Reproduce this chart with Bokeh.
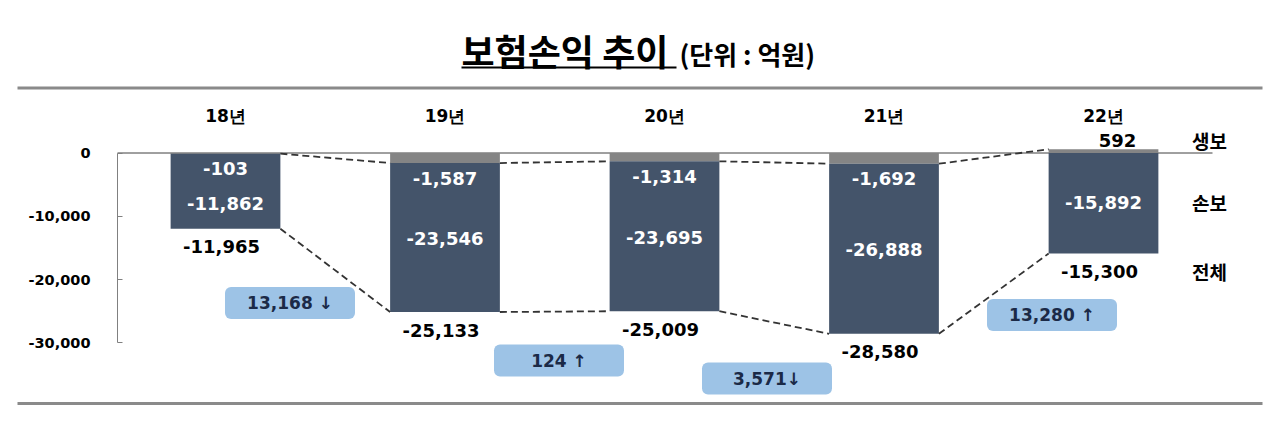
import numpy as np
from bokeh.plotting import figure
from bokeh.models import Range1d, LinearAxis, FixedTicker
from bokeh.core.properties import value
from bokeh.embed import file_html
from bokeh.resources import INLINE

# ---------------- data ----------------
YEARS = ["18년", "19년", "20년", "21년", "22년"]
LIFE = [-103, -1587, -1314, -1692, 592]              # 생보
NONLIFE = [-11862, -23546, -23695, -26888, -15892]   # 손보
TOTAL = [-11965, -25133, -25009, -28580, -15300]     # 전체
CHANGE_LABELS = ["13,168 ↓", "124 ↑", "3,571↓", "13,280 ↑"]
SERIES_NAMES = ["생보", "손보", "전체"]
Y_TICKS = [0, -10000, -20000, -30000]
Y_TICK_LABELS = ["0", "-10,000", "-20,000", "-30,000"]
TITLE = "보험손익 추이"
UNIT = "(단위 : 억원)"

# ---------------- layout ----------------
W, H = 1264, 411
PX_X0, PX_DX = 225.0, 219.5          # page x of first category, category pitch
PX_Y0, PX_PER_UNIT = 152.5, 0.006327  # page y of zero, pixels per unit


def xd(px):
    return (px - PX_X0) / PX_DX


def yd(py):
    return -(py - PX_Y0) / PX_PER_UNIT


BAR_W = 0.5
NAVY = "#44546A"
GREY = "#858585"
BOX = "#9DC3E6"
BOX_TEXT = "#1B2A47"
NUM_FONT = value("DejaVu Sans")
KR_FONT = value("Noto Sans CJK KR")
NONLIFE_SHIFT = [12, 1, 1, 1, -1]
CALLOUT_PX = [(289.5, 302.5), (558.5, 360), (766.5, 378), (1051.5, 314.5)]

p = figure(width=W, height=H,
           x_range=Range1d(xd(0), xd(W)), y_range=Range1d(yd(H), yd(0)),
           x_axis_location=None, y_axis_location=None,
           toolbar_location=None, output_backend="svg", min_border=0,
           outline_line_color=None, background_fill_color="white",
           border_fill_color="white")
p.grid.visible = False

# frame rules
p.segment(x0=[xd(17)] * 2, x1=[xd(1262)] * 2, y0=[yd(87.5), yd(403)], y1=[yd(87.5), yd(403)],
          line_color="#8a8a8a", line_width=3)

# title
p.text(x=[xd(461)], y=[yd(49)], text=[TITLE], text_font=KR_FONT, text_font_style="bold",
       text_font_size="36px", text_align="left", text_baseline="middle", text_color="black")
p.segment(x0=[xd(461)], x1=[xd(676)], y0=[yd(67)], y1=[yd(67)], line_color="black", line_width=2)
p.text(x=[xd(679)], y=[yd(53)], text=[UNIT], text_font=KR_FONT, text_font_style="bold",
       text_font_size="26px", text_align="left", text_baseline="middle", text_color="black")

# y axis
ax = LinearAxis(fixed_location=xd(117), bounds=(-30000, 0),
                ticker=FixedTicker(ticks=Y_TICKS),
                major_label_overrides={t: l for t, l in zip(Y_TICKS, Y_TICK_LABELS)},
                major_tick_in=5, major_tick_out=0, minor_tick_line_color=None,
                axis_line_color="#808080", major_tick_line_color="#808080",
                major_label_text_font="DejaVu Sans", major_label_text_font_size="14.5px",
                major_label_text_font_style="bold", major_label_text_color="black",
                major_label_standoff=27)
p.add_layout(ax, "left")

# zero line
p.segment(x0=[xd(117)], x1=[xd(1212)], y0=[0], y1=[0], line_color="#404040", line_width=1)

idx = np.arange(len(YEARS), dtype=float)
life = np.array(LIFE, dtype=float)
nonlife = np.array(NONLIFE, dtype=float)
navy_top = np.minimum(life, 0)
navy_bottom = navy_top + nonlife
navy_mid = (navy_top + navy_bottom) / 2

# bars
p.vbar(x=idx, width=BAR_W, top=life, bottom=0, fill_color=GREY, line_color=None)
p.vbar(x=idx, width=BAR_W, top=navy_top, bottom=navy_bottom, fill_color=NAVY, line_color=None)

# dashed connectors
n = len(YEARS)
p.segment(x0=idx[:-1] + BAR_W / 2, x1=idx[1:] - BAR_W / 2, y0=life[:-1], y1=life[1:],
          line_color="#333333", line_width=1.8, line_dash="7 4")
p.segment(x0=idx[:-1] + BAR_W / 2, x1=idx[1:] - BAR_W / 2, y0=navy_bottom[:-1], y1=navy_bottom[1:],
          line_color="#333333", line_width=1.8, line_dash="7 4")

# year labels
p.text(x=idx, y=[yd(115)] * n, text=YEARS, text_font=NUM_FONT, text_font_style="bold",
       text_font_size="17px", text_align="center", text_baseline="middle", text_color="black")

# life labels
neg = life < 0
p.text(x=idx[neg], y=life[neg], text=[f"{int(v):,}" for v in life[neg]], y_offset=15,
       text_font=NUM_FONT, text_font_style="bold", text_font_size="18px",
       text_align="center", text_baseline="middle", text_color="white")
p.text(x=idx[~neg], y=life[~neg], text=[f"{int(v):,}" for v in life[~neg]], y_offset=-9, x_offset=14,
       text_font=NUM_FONT, text_font_style="bold", text_font_size="18px",
       text_align="center", text_baseline="middle", text_color="black")

# non-life labels
p.text(x=idx, y=navy_mid, text=[f"{v:,}" for v in NONLIFE], y_offset=NONLIFE_SHIFT,
       text_font=NUM_FONT, text_font_style="bold", text_font_size="18px",
       text_align="center", text_baseline="middle", text_color="white")

# total labels
p.text(x=idx, y=navy_bottom, text=[f"{v:,}" for v in TOTAL], y_offset=18, x_offset=-4,
       text_font=NUM_FONT, text_font_style="bold", text_font_size="18px",
       text_align="center", text_baseline="middle", text_color="black")

# series names on the right
p.text(x=[xd(1209)] * 3, y=[life[-1], navy_mid[-1], navy_bottom[-1]], text=SERIES_NAMES,
       y_offset=[-9, NONLIFE_SHIFT[-1], 18],
       text_font=KR_FONT, text_font_style="bold", text_font_size="19px",
       text_align="center", text_baseline="middle", text_color="black")

# change callouts
cx = [xd(a) for a, b in CALLOUT_PX]
cy = [yd(b) for a, b in CALLOUT_PX]
p.rect(x=cx, y=cy, width=130, height=32, width_units="screen", height_units="screen",
       fill_color=BOX, line_color=None, border_radius=6)
p.text(x=cx, y=cy, text=CHANGE_LABELS, text_font=NUM_FONT, text_font_style="bold",
       text_font_size="17px", text_align="center", text_baseline="middle", text_color=BOX_TEXT)

open("out.html", "w").write(file_html(p, INLINE))
